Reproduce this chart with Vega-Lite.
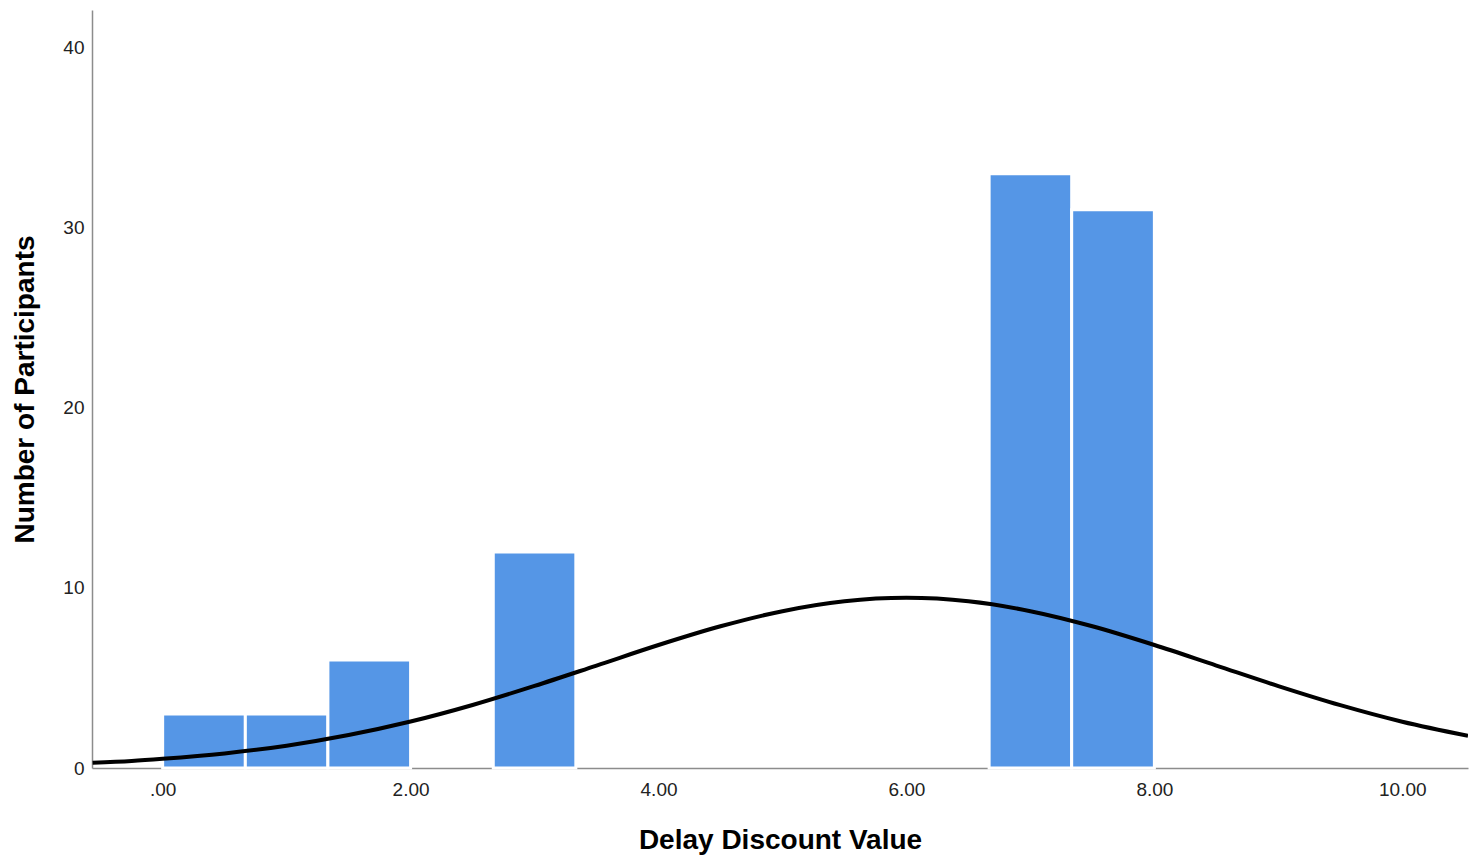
{
  "$schema": "https://vega.github.io/schema/vega-lite/v6.json",
  "width": 1376,
  "height": 758,
  "autosize": {"type": "none"},
  "padding": {"left": 92, "top": 10, "right": 13, "bottom": 95},
  "background": "white",
  "config": {
    "view": {"stroke": null},
    "font": "Liberation Sans",
    "axis": {
      "grid": false,
      "ticks": false,
      "zindex": 1,
      "domainColor": "#8c8c8c",
      "domainWidth": 1.5,
      "labelFont": "Liberation Sans",
      "labelFontSize": 19,
      "labelColor": "#222222",
      "titleFont": "Liberation Sans",
      "titleFontSize": 28,
      "titleFontWeight": "bold",
      "titleColor": "#000000"
    }
  },
  "datasets": {
    "bins": [
      {"bin_start": 0.0, "bin_end": 0.667, "count": 3},
      {"bin_start": 0.667, "bin_end": 1.333, "count": 3},
      {"bin_start": 1.333, "bin_end": 2.0, "count": 6},
      {"bin_start": 2.667, "bin_end": 3.333, "count": 12},
      {"bin_start": 6.667, "bin_end": 7.333, "count": 33},
      {"bin_start": 7.333, "bin_end": 8.0, "count": 31}
    ],
    "curve": [
      {"value": -0.565, "expected": 0.29},
      {"value": -0.25, "expected": 0.39},
      {"value": 0.0, "expected": 0.51},
      {"value": 0.5, "expected": 0.81},
      {"value": 1.0, "expected": 1.24},
      {"value": 1.5, "expected": 1.83},
      {"value": 2.0, "expected": 2.58},
      {"value": 2.5, "expected": 3.5},
      {"value": 3.0, "expected": 4.56},
      {"value": 3.5, "expected": 5.69},
      {"value": 4.0, "expected": 6.83},
      {"value": 4.5, "expected": 7.87},
      {"value": 5.0, "expected": 8.71},
      {"value": 5.5, "expected": 9.26},
      {"value": 6.0, "expected": 9.45},
      {"value": 6.5, "expected": 9.26},
      {"value": 7.0, "expected": 8.71},
      {"value": 7.5, "expected": 7.87},
      {"value": 8.0, "expected": 6.83},
      {"value": 8.5, "expected": 5.69},
      {"value": 9.0, "expected": 4.55},
      {"value": 9.5, "expected": 3.49},
      {"value": 10.0, "expected": 2.57},
      {"value": 10.53, "expected": 1.79}
    ]
  },
  "layer": [
    {
      "data": {"name": "bins"},
      "mark": {"type": "rect", "color": "#5596E6", "stroke": "#ffffff", "strokeWidth": 3},
      "encoding": {
        "x": {
          "field": "bin_start",
          "type": "quantitative",
          "scale": {"domain": [-0.57, 10.53], "nice": false, "zero": false},
          "axis": {
            "values": [0, 2, 4, 6, 8, 10],
            "labelExpr": "datum.value == 0 ? '.00' : format(datum.value, '.2f')",
            "labelPadding": 12,
            "title": "Delay Discount Value",
            "titlePadding": 27
          }
        },
        "x2": {"field": "bin_end"},
        "y": {
          "field": "count",
          "type": "quantitative",
          "scale": {"domain": [0, 42.1], "nice": false},
          "axis": {
            "values": [0, 10, 20, 30, 40],
            "labelPadding": 8,
            "title": "Number of Participants",
            "titlePadding": 23
          }
        },
        "y2": {"datum": 0}
      }
    },
    {
      "data": {"name": "curve"},
      "mark": {"type": "line", "color": "#000000", "strokeWidth": 4, "interpolate": "monotone", "clip": true},
      "encoding": {
        "x": {"field": "value", "type": "quantitative"},
        "y": {"field": "expected", "type": "quantitative"}
      }
    }
  ]
}
